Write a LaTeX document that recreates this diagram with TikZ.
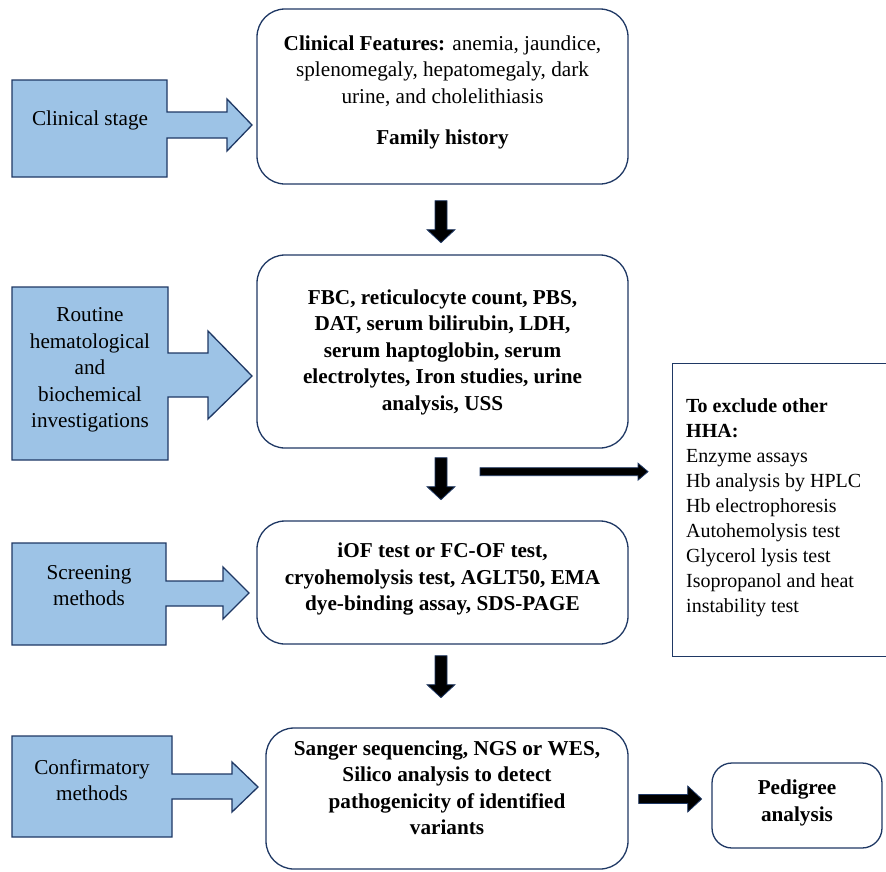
\documentclass[tikz,border=0pt]{standalone}
\usepackage{fontspec}
\setmainfont{Liberation Serif}
\usetikzlibrary{calc}

\definecolor{navy}{RGB}{31,56,100}
\definecolor{calloutblue}{RGB}{157,195,230}

\tikzset{
  stagebox/.style={draw=navy, line width=1.3pt, rounded corners=28pt, inner sep=0pt},
  stagetext/.style={align=center, inner sep=0pt, font=\bfseries\fontsize{21.2}{26.5}\selectfont},
  calloutshape/.style={draw=navy, fill=calloutblue, line width=1.3pt, line join=miter},
  callouttext/.style={align=center, inner sep=0pt, font=\fontsize{21.2}{26.5}\selectfont},
  blockarrow/.style={draw=navy, fill=black, line width=0.8pt},
}

% thick down arrow, top centre at #1
\newcommand{\dnarrow}[1]{\filldraw[blockarrow] ($(#1)+(-6,0)$) -- ++(12,0) -- ++(0,29) -- ++(8,0) -- ++(-14,13) -- ++(-14,-13) -- ++(8,0) -- cycle;}

\begin{document}
\begin{tikzpicture}[x=1pt, y=-1pt]
\useasboundingbox (0,0) rectangle (886,871);

% stage boxes
\node[stagebox, minimum width=371pt, minimum height=175pt] (clin) at (442.5,96.5) {};
\node[stagebox, minimum width=371pt, minimum height=193pt] (lab) at (442.5,351.5) {};
\node[stagebox, minimum width=371pt, minimum height=123pt] (screen) at (442.5,582.5) {};
\node[stagebox, minimum width=362pt, minimum height=141pt] (genet) at (447,798.5) {};
\node[stagebox, rounded corners=20pt, minimum width=170pt, minimum height=85pt] (pedig) at (797,805.5) {};

\node[stagetext] (clintext) at (442.5,92.5) {Clinical Features:\mdseries{} anemia, jaundice,\\
  \mdseries splenomegaly, hepatomegaly, dark\\ \mdseries urine, and cholelithiasis\\[15pt]
  Family history};
\node[stagetext] (labtext) at (442.5,352) {FBC, reticulocyte count, PBS,\\ DAT, serum bilirubin, LDH,\\
  serum haptoglobin, serum\\ electrolytes, Iron studies, urine\\ analysis, USS};
\node[stagetext] (screentext) at (442.5,579) {iOF test or FC-OF test,\\
  cryohemolysis test, AGLT50, EMA\\ dye-binding assay, SDS-PAGE};
\node[stagetext] (genettext) at (447,787.5) {Sanger sequencing, NGS or WES,\\ Silico analysis to detect\\
  pathogenicity of identified\\ variants};
\node[stagetext] (pedigtext) at (797,803) {Pedigree\\ analysis};

% exclusion box
\node[draw=navy, line width=1.3pt, anchor=north west, minimum width=240pt, minimum height=293pt] (excl) at (672,363) {};
\node[anchor=north west, align=left, inner sep=0pt, font=\fontsize{20}{25}\selectfont] (excltext) at (686,398)
  {\textbf{To exclude other}\\ \textbf{HHA:}\\ Enzyme assays\\ Hb analysis by HPLC\\ Hb electrophoresis\\
   Autohemolysis test\\ Glycerol lysis test\\ Isopropanol and heat\\ instability test};

% stage callouts
\filldraw[calloutshape] (12,80) -- (167,80) -- (167,112) -- (227,112) -- (227,99) -- (252,125)
  -- (227,151) -- (227,138) -- (167,138) -- (167,177) -- (12,177) -- cycle;
\filldraw[calloutshape] (12,287) -- (168,287) -- (168,353) -- (208,353) -- (208,331) -- (252,376)
  -- (208,419) -- (208,397) -- (168,397) -- (168,460) -- (12,460) -- cycle;
\filldraw[calloutshape] (12,543) -- (166,543) -- (166,581) -- (223,581) -- (223,567) -- (249,593)
  -- (223,619) -- (223,606) -- (166,606) -- (166,645) -- (12,645) -- cycle;
\filldraw[calloutshape] (12,736) -- (172,736) -- (172,774) -- (232,774) -- (232,762) -- (258,787)
  -- (232,812) -- (232,799) -- (172,799) -- (172,837) -- (12,837) -- cycle;

\node[callouttext] (c1) at (90,120) {Clinical stage};
\node[callouttext] (c2) at (90,370) {Routine\\ hematological\\ and\\ biochemical\\ investigations};
\node[callouttext] (c3) at (89,585.5) {Screening\\ methods};
\node[callouttext] (c4) at (92,780) {Confirmatory\\ methods};

% flow arrows
\coordinate (d1) at ($(clin.south)+(-1.5,16)$);
\coordinate (d2) at ($(lab.south)+(-1.5,9)$);
\coordinate (d3) at ($(screen.south)+(-1.5,11)$);
\dnarrow{d1}
\dnarrow{d2}
\dnarrow{d3}

\coordinate (r1) at ($(lab.south)+(37.5,23)$);
\filldraw[blockarrow] ($(r1)+(0,-4)$) -- ++(158,0) -- ++(0,-4.5) -- ++(10,8.5) -- ++(-10,8.5)
  -- ++(0,-4.5) -- ++(-158,0) -- cycle;
\coordinate (r2) at ($(genet.east)+(10,0.5)$);
\filldraw[blockarrow] ($(r2)+(0,-4.5)$) -- ++(49,0) -- ++(0,-8.5) -- ++(14,13) -- ++(-14,13)
  -- ++(0,-8.5) -- ++(-49,0) -- cycle;
\end{tikzpicture}
\end{document}
